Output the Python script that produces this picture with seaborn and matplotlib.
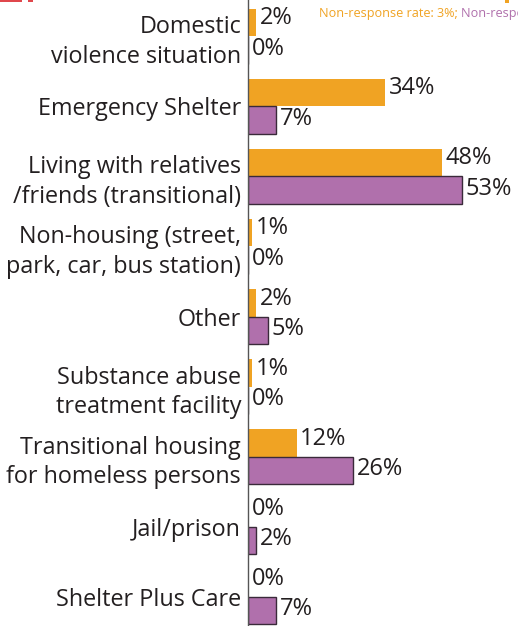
import matplotlib
matplotlib.use("Agg")
import matplotlib.pyplot as plt
import seaborn as sns
import pandas as pd
from matplotlib.patches import Rectangle

# Prior living situation, share of clients (%) for the two groups
categories = [
    "Domestic\nviolence situation",
    "Emergency Shelter",
    "Living with relatives\n/friends (transitional)",
    "Non-housing (street,\npark, car, bus station)",
    "Other",
    "Substance abuse\ntreatment facility",
    "Transitional housing\nfor homeless persons",
    "Jail/prison",
    "Shelter Plus Care",
]
group_a = [2, 34, 48, 1, 2, 1, 12, 0, 0]
group_b = [0, 7, 53, 0, 5, 0, 26, 2, 7]
series_names = ["Group A", "Group B"]

ORANGE = "#F0A323"
PURPLE = "#B070AC"
TEXT = "#231F20"

df = pd.DataFrame({
    "category": categories * 2,
    "pct": group_a + group_b,
    "series": [series_names[0]] * len(categories) + [series_names[1]] * len(categories),
})

sns.set_theme(style="white")
plt.rcParams["font.family"] = ["Open Sans", "DejaVu Sans"]

fig = plt.figure(figsize=(5.18, 6.26), dpi=100)
ax = fig.add_axes([248 / 518, 0, 1 - 248 / 518, 1])

sns.barplot(
    data=df, y="category", x="pct", hue="series", orient="h",
    palette=[ORANGE, PURPLE], width=0.79, ax=ax, legend=False,
    saturation=1, errorbar=None,
)

# purple bars carry a dark outline, orange bars none
for bar in ax.containers[1]:
    bar.set_edgecolor("#3a2a3a")
    bar.set_linewidth(1.0)
for bar in ax.containers[0]:
    bar.set_linewidth(0)

# value labels just right of each bar, nudged slightly upward
for container, lift in zip(ax.containers, [3.0, 1.2]):
    anns = ax.bar_label(container, labels=[f"{v:g}%" for v in container.datavalues],
                        padding=2.5, fontsize=17, color=TEXT)
    for ann in anns:
        dx, dy = ann.xyann
        ann.xyann = (dx, dy + lift)

ax.set_xlim(0, 66.8)
ax.set_ylim(8.42, -0.52)
ax.set_xlabel("")
ax.set_ylabel("")
ax.set_xticks([])
ax.tick_params(axis="y", length=0, pad=5)
for lbl in ax.get_yticklabels():
    lbl.set_fontsize(16.8)
    lbl.set_color(TEXT)
    lbl.set_multialignment("right")
    lbl.set_linespacing(1.33)

for side in ["top", "right", "bottom"]:
    ax.spines[side].set_visible(False)
ax.spines["left"].set_color("#555555")
ax.spines["left"].set_linewidth(1.0)

# non-response notes along the top edge
t1 = fig.text(319 / 518, 1 - 13 / 626, "Non-response rate: 3%; ", color=ORANGE,
              fontsize=9.1, va="center", ha="left")
fig.canvas.draw()
bb = t1.get_window_extent()
fig.text(bb.x1 / fig.bbox.width, 1 - 13 / 626, "Non-response rate: 3%", color=PURPLE,
         fontsize=9.1, va="center", ha="left")

# remnants of the heading rule above the chart
fig.patches.append(Rectangle((0, 1 - 2 / 626), 22 / 518, 2 / 626, transform=fig.transFigure,
                             color="#E0474C", lw=0))
fig.patches.append(Rectangle((28 / 518, 1 - 2 / 626), 5 / 518, 2 / 626, transform=fig.transFigure,
                             color="#E0474C", lw=0))
fig.patches.append(Rectangle((505 / 518, 1 - 3 / 626), 4 / 518, 3 / 626, transform=fig.transFigure,
                             color=ORANGE, lw=0))

fig.savefig("out.png", dpi=100)
